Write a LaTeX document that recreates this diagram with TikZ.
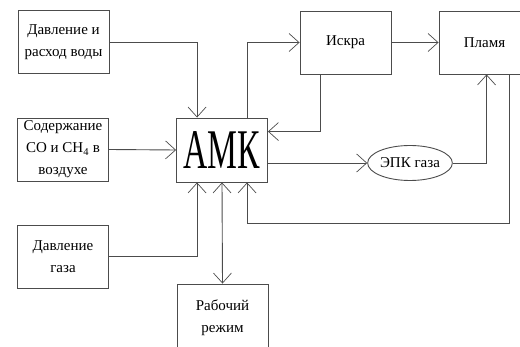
\documentclass[tikz,border=0pt]{standalone}
\usepackage{fontspec}
\setmainfont{Liberation Serif}
\newfontfamily\rusfont{Liberation Serif}
\usetikzlibrary{arrows.meta}
\usetikzlibrary{calc}
\usetikzlibrary{shapes.geometric}

\begin{document}
\begin{tikzpicture}[x=1pt,y=-1pt,
  block/.style={draw=black!70,line width=0.9pt,minimum width=91pt,minimum height=63pt,inner sep=0pt,
    align=center,font=\rusfont\fontsize{15}{22}\selectfont},
  barb/.tip={Straight Barb[length=10pt,width=18pt,line width=0.7pt]},
  link/.style={draw=black!70,line width=0.9pt,-barb}]
\useasboundingbox (0,0) rectangle (520,347);
\clip (0,0) rectangle (520,347);
\node [block] (voda) at (63.5,42) {Давление и\\расход воды};
\node [block] (co) at (63,149.5) {Содержание\\CO и CH\textsubscript{4} в\\воздухе};
\node [block] (gas) at (63,256.5) {Давление\\газа};
\node [block,minimum height=64pt] (amk) at (222,150) {\scalebox{0.6}[1]{\fontsize{56}{56}\selectfont АМК}};
\node [block] (iskra) at (345.5,42.5) {Искра};
\node [block] (plamya) at (484.5,42.5) {Пламя};
\node [block,minimum height=68pt] (rezhim) at (222.5,318) {Рабочий\\режим};
\node [draw=black!70,line width=0.9pt,ellipse,minimum width=78pt,minimum height=35pt,inner sep=0pt,
  font=\rusfont\fontsize{15}{18}\selectfont] (epk) at (410,163) {ЭПК газа};
\draw [link] (voda.east) -| ($(amk.north west)+(21,0)$);
\draw [link] (co.east) -- (amk.west);
\draw [link] (gas.east) -| ($(amk.south west)+(21,0)$);
\draw [link] ($(amk.north west)+(71,0)$) |- (iskra.west);
\draw [link] (iskra.east) -- (plamya.west);
\draw [link] ($(iskra.south west)+(21,0)$) |- ($(amk.north east)+(0,14)$);
\draw [link] (amk.east |- epk.west) -- (epk.west);
\draw [link] (epk.east) -| ($(plamya.south west)+(48,0)$);
\draw [link] ($(plamya.south west)+(71,0)$) |- ($(amk.south west)+(71,41)$) -- ($(amk.south west)+(71,0)$);
\draw [link,barb-barb] (amk.south) -- (rezhim.north);
\end{tikzpicture}
\end{document}
